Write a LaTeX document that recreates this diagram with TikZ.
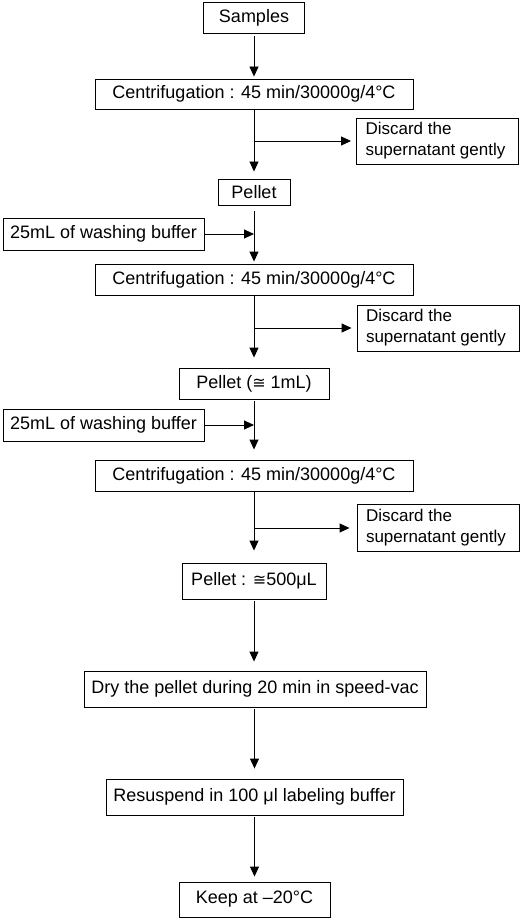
\documentclass[tikz,border=0pt]{standalone}
\usepackage{fontspec}
\setmainfont{Liberation Sans}
\newfontfamily\symfont{DejaVu Sans}
\usetikzlibrary{arrows.meta}
\tikzset{
  box/.style={draw, line width=0.9pt, inner sep=0pt, align=center, font=\fontsize{18}{21}\selectfont},
  side/.style={draw, line width=0.9pt, inner xsep=9pt, inner ysep=0pt, align=flush left, text width=144pt, font=\fontsize{17}{21}\selectfont},
  arr/.style={line width=0.9pt, -{Triangle[length=10pt,width=9pt]}}
}
\begin{document}
\begin{tikzpicture}[x=1pt,y=-1pt]
\useasboundingbox (0,0) rectangle (526,920);
\node[box, minimum width=101pt, minimum height=31pt] (samples) at (254,17.5) {Samples};
\node[box, minimum width=318pt, minimum height=30pt] (c1) at (254,94) {Centrifugation : 45 min/30000g/4°C};
\node[side, minimum height=46pt] (d1) at (437.5,141) {Discard the\\supernatant gently};
\node[box, minimum width=72pt, minimum height=26pt] (p1) at (254,192) {Pellet};
\node[box, minimum width=201pt, minimum height=32pt] (w1) at (103.5,234) {25mL of washing buffer};
\node[box, minimum width=318pt, minimum height=31pt] (c2) at (254,279.5) {Centrifugation : 45 min/30000g/4°C};
\node[side, minimum height=46pt] (d2) at (438,328) {Discard the\\supernatant gently};
\node[box, minimum width=150pt, minimum height=31pt] (p2) at (254,383.5) {Pellet ({\symfont\fontsize{16}{20}\selectfont ≅} 1mL)};
\node[box, minimum width=201pt, minimum height=32pt] (w2) at (103.5,425) {25mL of washing buffer};
\node[box, minimum width=318pt, minimum height=31pt] (c3) at (254,475.5) {Centrifugation : 45 min/30000g/4°C};
\node[side, minimum height=47pt] (d3) at (438,528) {Discard the\\supernatant gently};
\node[box, minimum width=144pt, minimum height=36pt] (p3) at (254,581) {Pellet : {\symfont\fontsize{16}{20}\selectfont ≅}500μL};
\node[box, minimum width=342pt, minimum height=36pt] (dry) at (255,689) {Dry the pellet during 20 min in speed-vac};
\node[box, minimum width=297pt, minimum height=36pt] (res) at (254.5,797) {Resuspend in 100 μl labeling buffer};
\node[box, minimum width=151pt, minimum height=35pt] (keep) at (254.5,899.5) {Keep at –20°C};

\coordinate (b1) at (254,141);
\coordinate (b2) at (254,328);
\coordinate (b3) at (254,528);
\coordinate (j1) at (254,234);
\coordinate (j2) at (254,425);

\draw[arr, shorten <=3pt, shorten >=2pt] (samples.south) -- (c1.north);
\draw[arr, shorten >=7pt] (c1.south) -- (p1.north);
\draw[arr, shorten >=5pt] (b1) -- (d1.west);
\draw[arr, shorten <=6pt, shorten >=2pt] (p1.south) -- (c2.north);
\draw[arr] (w1.east) -- (j1);
\draw[arr, shorten >=10pt] (c2.south) -- (p2.north);
\draw[arr, shorten >=5pt] (b2) -- (d2.west);
\draw[arr, shorten <=2pt, shorten >=10pt] (p2.south) -- (c3.north);
\draw[arr] (w2.east) -- (j2);
\draw[arr, shorten >=12pt] (c3.south) -- (p3.north);
\draw[arr, shorten >=7pt] (b3) -- (d3.west);
\draw[arr, shorten <=2pt, shorten >=9pt] (p3.south) -- (p3.south |- dry.north);
\draw[arr, shorten <=2pt, shorten >=10pt] (dry.south -| res.north) -- (res.north);
\draw[arr, shorten <=2pt, shorten >=5pt] (res.south) -- (keep.north);
\end{tikzpicture}
\end{document}
